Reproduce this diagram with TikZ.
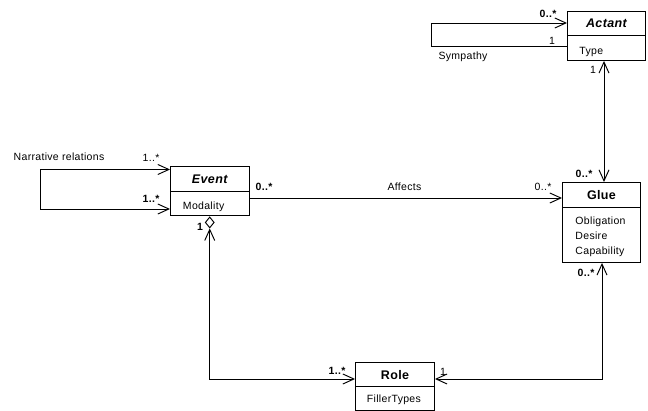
\documentclass[tikz,border=0pt]{standalone}
\usepackage{fontspec}
\setmainfont[LetterSpace=3]{Liberation Sans}
\usetikzlibrary{arrows.meta,shapes.geometric}
\begin{document}
\begin{tikzpicture}[x=1pt,y=-1pt,
  line width=0.95pt,
  >={Straight Barb[length=11pt,width=10pt]},
  box/.style={draw, inner sep=0pt, anchor=north west},
  hdr/.style={box, font=\fontsize{12.5}{14}\selectfont\bfseries},
  attr/.style={anchor=base west, inner sep=0pt, font=\fontsize{10.5}{12}\selectfont},
  lbl/.style={inner sep=0pt, font=\fontsize{10.5}{12}\selectfont},
  blbl/.style={inner sep=0pt, font=\fontsize{10.5}{12}\selectfont\bfseries},
  agg/.style={draw, diamond, inner sep=0pt, minimum width=9pt, minimum height=11pt, anchor=north}
]
\useasboundingbox (0,0) rectangle (648,411);

% Actant
\node[hdr, minimum width=78pt, minimum height=24pt] (actant) at (567,11) {\itshape Actant};
\node[box, minimum width=78pt, minimum height=25pt] (actantA) at (567,35) {};
\node[attr] (actType) at (579,55) {Type};

% Event
\node[hdr, minimum width=78.5pt, minimum height=25pt] (event) at (170,166.5) {\itshape Event};
\node[box, minimum width=78.5pt, minimum height=24pt] (eventA) at (170,191.5) {};
\node[attr] (evMod) at (182.5,209.5) {Modality};

% Glue
\node[hdr, minimum width=78pt, minimum height=25pt] (glue) at (562,182) {Glue};
\node[box, minimum width=78pt, minimum height=55pt] (glueA) at (562,207) {};
\node[attr] (gObl) at (575,225) {Obligation};
\node[attr] (gDes) at (575,240) {Desire};
\node[attr] (gCap) at (575,255) {Capability};

% Role
\node[hdr, minimum width=79pt, minimum height=23.5pt] (role) at (355,362.5) {Role};
\node[box, minimum width=79pt, minimum height=24pt] (roleA) at (355,386) {};
\node[attr] (rFill) at (366.5,402.5) {FillerTypes};

% aggregation diamond
\node[agg] (aggd) at (eventA.south) {};

% helper coordinates
\coordinate (symT) at (431,23);
\coordinate (symB) at (431,46);
\coordinate (narT) at (40,169.5);
\coordinate (narB) at (40,209);
\coordinate (aff) at (0,198);
\coordinate (agx) at (604,0);
\coordinate (grx) at (602,379);

% connectors
\draw[->] (actantA.west |- symB) -- (symB) -- (symT) -- (actant.west |- symT);
\draw[<->] (event.west |- narT) -- (narT) -- (narB) -- (eventA.west |- narB);
\draw[->] (eventA.east |- aff) -- (glue.west |- aff);
\draw[<->] (actantA.south -| agx) -- (glue.north -| agx);
\draw[<->] (glueA.south -| grx) |- (role.east |- grx);
\draw[<->] (aggd.south) |- (role.west |- grx);

% labels
\node[blbl] (l1) at (548,14) {0..*};
\node[lbl] (l2) at (552,41) {1};
\node[lbl] (l3) at (463,57) {Sympathy};
\node[lbl] (l4) at (593,70) {1};
\node[blbl] (l5) at (584,174) {0..*};
\node[lbl] (l6) at (59,157) {Narrative relations};
\node[lbl] (l7) at (151,158) {1..*};
\node[blbl] (l8) at (151,199) {1..*};
\node[blbl] (l9) at (264,187) {0..*};
\node[lbl] (l10) at (404.5,187) {Affects};
\node[lbl] (l11) at (543,187) {0..*};
\node[blbl] (l12) at (200,227) {1};
\node[blbl] (l13) at (337,371) {1..*};
\node[lbl] (l14) at (443,372) {1};
\node[blbl] (l15) at (586,273) {0..*};
\end{tikzpicture}
\end{document}
